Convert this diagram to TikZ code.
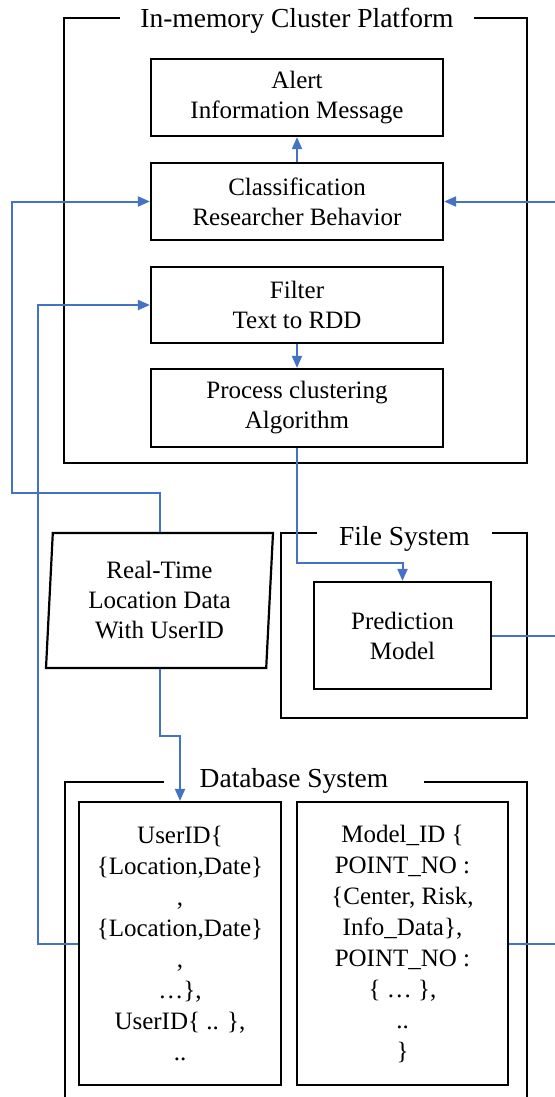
\documentclass[tikz,border=0pt]{standalone}
\usepackage{fontspec}
\setmainfont{Liberation Serif}
\usetikzlibrary{arrows.meta,shapes.geometric}
\definecolor{flowblue}{HTML}{4472C4}
\begin{document}
\begin{tikzpicture}[x=0.5pt, y=-0.5pt,
  box/.style={draw, line width=1.1pt, align=center, inner sep=0pt, font=\fontsize{12.5}{15}\selectfont},
  dbbox/.style={box, minimum height=141.5pt, font=\fontsize{12.5}{15.5}\selectfont},
  frame/.style={line width=1pt},
  frametitle/.style={anchor=base, font=\fontsize{13.75}{16}\selectfont},
  flow/.style={draw=flowblue, line width=1pt},
  tip/.style={-{Triangle[length=6pt,width=5pt]}}]
\useasboundingbox (0,0) rectangle (555,1097);
\node [box, minimum width=146pt, minimum height=38.5pt] (alert) at (297,97.5) {Alert\\Information Message};
\node [box, minimum width=146pt, minimum height=38.5pt] (classify) at (297,201.5) {Classification\\Researcher Behavior};
\node [box, minimum width=146pt, minimum height=38pt] (filter) at (297,305) {Filter\\Text to RDD};
\node [box, minimum width=146pt, minimum height=39pt] (cluster) at (297,408) {Process clustering\\Algorithm};
\node [box, shape=trapezium, trapezium left angle=85, trapezium right angle=95, trapezium stretches body,
  minimum width=113.5pt, minimum height=67.5pt] (location) at (159.5,600.5) {Real-Time\\Location Data\\With UserID};
\node [box, minimum width=88.5pt, minimum height=53.5pt] (predict) at (402.5,635.5) {Prediction\\Model};
\node [dbbox, minimum width=101pt] (userdb) at (180,943.5) {UserID\{\\\{Location,Date\}\\,\\\{Location,Date\}\\,\\…\},\\UserID\{ .. \},\\..};
\node [dbbox, minimum width=105.5pt] (modeldb) at (402.5,943.5) {Model\_ID \{\\POINT\_NO :\\\{Center, Risk,\\Info\_Data\},\\POINT\_NO :\\\{ … \},\\..\\\}};
\node [frametitle] (cltitle) at (297,28) {In-memory Cluster Platform};
\node [frametitle] (fstitle) at (404.5,545) {File System};
\node [frametitle] (dbtitle) at (294,787) {Database System};
\draw [frame] (120,18) -| (64,463) -| (527,18) -- (474,18);
\draw [frame] (317,533) -| (281,718) -| (527,533) -- (492,533);
\draw [frame] (164,782) -| (65,1097);
\draw [frame] (424,782) -| (527,1097);
\coordinate (westbus) at (12,493);
\coordinate (innerbus) at (38,600);
\coordinate (eastbus) at (562,600);
\draw [flow, tip] (classify) -- (alert);
\draw [flow, tip] (filter) -- (cluster);
\draw [flow, tip] (cluster.south) -- ++(0,115) -| (predict.north);
\draw [flow, tip] (location.north) |- (westbus) |- (classify.west);
\draw [flow, tip] (location.south) -- ++(0,67) -| (userdb.north);
\draw [flow, tip] (userdb.west) -| (innerbus) |- (filter.west);
\draw [flow] (modeldb.east) -| (eastbus);
\draw [flow] (predict.east) -| (eastbus);
\draw [flow, tip] (eastbus) |- (classify.east);
\end{tikzpicture}
\end{document}
